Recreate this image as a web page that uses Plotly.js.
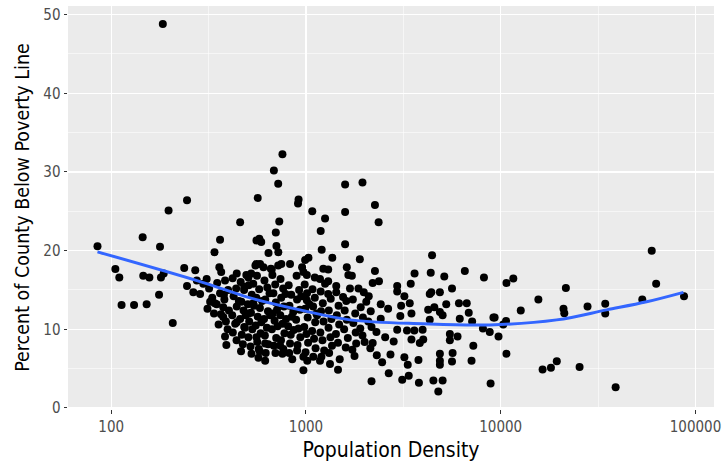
<!DOCTYPE html>
<html>
<head>
<meta charset="utf-8">
<script src="https://cdn.plot.ly/plotly-3.0.1.min.js"></script>
<style>html,body{margin:0;padding:0;background:#fff}#chart{width:726px;height:462px}</style>
</head>
<body>
<div id="chart"></div>
<script>
// Scattered counties (population density, percent below poverty)
const density = [85,105,110,113,131,145,146,152,157,176,178,180,184,186,197,207,237,245,245,264,270,275,286,297,309,322,337,339,359,362,367,376,376,384,390,441,441,459,482,482,494,506,507,523,536,536,550,557,557,557,565,572,576,581,589,605,617,617,642,660,667,684,700,705,720,720,721,729,736,747,757,757,828,828,900,910,916,955,970,970,970,990,1010,1010,1030,1077,1090,1110,1130,1180,1180,1190,1204,1227,1253,1253,1300,1300,1328,1365,1430,1460,1550,1588,1588,1588,1610,1620,1650,1682,1720,1810,1860,1890,1950,1980,2000,2040,2170,2170,2200,2200,2260,2260,2300,2310,2360,2370,2420,2420,2460,2550,2640,2660,2715,2820,2940,2940,2940,3050,3080,3120,3200,3200,3300,3330,3370,3410,3450,3480,3480,3600,3610,3780,3800,3840,3970,4000,4240,4320,4320,4370,4400,4440,4510,4560,4780,4870,4870,4870,4870,4870,5030,5030,5130,5250,5480,5480,5620,5620,5660,6000,6100,6160,6540,6690,6850,7080,7130,7230,8100,8200,8780,8870,9170,9300,9740,10300,10650,10700,10700,11600,12670,15600,16400,18100,19400,21000,21200,21600,25400,27900,34400,34400,38900,53300,59600,62800,87300];
const poverty = [20.55,17.66,16.6,13.1,13.1,21.7,16.8,13.2,16.6,14.4,20.5,16.6,48.8,17.1,25.1,10.8,17.8,26.4,15.5,14.7,17.5,16.2,14.5,15.8,16.4,13.5,12.0,19.8,17.9,21.4,17.3,12.8,11.55,9.1,8.0,17.1,10.9,23.6,15.4,10.3,16.9,16.6,12.0,17.1,15.8,13.3,18.1,18.3,21.3,9.0,26.7,7.5,21.5,18.3,21.1,17.9,8.2,6.0,19.7,17.7,17.6,30.2,22.3,20.6,28.5,18.1,19.8,23.7,7.95,18.3,32.25,6.9,18.3,8.2,7.3,26.0,26.5,17.9,17.3,6.5,4.8,18.8,16.9,13.7,19.1,25.0,6.5,16.6,12.0,16.4,6.0,22.5,20.1,17.7,24.1,15.8,17.6,14.5,5.6,19.1,14.7,4.85,14.1,28.4,24.9,20.8,13.6,17.9,16.9,15.2,16.8,8.2,15.2,18.9,28.65,14.7,8.4,13.5,10.3,3.4,15.9,8.25,25.8,17.4,9.65,6.7,23.6,16.1,13.2,11.35,5.8,9.0,12.6,4.4,6.8,8.45,15.5,14.8,9.95,11.7,13.0,3.6,14.2,6.45,9.85,5.5,4.1,13.3,15.8,12.0,8.7,9.85,17.1,6.1,3.2,8.25,9.95,8.7,12.5,14.5,11.2,17.2,14.7,19.4,3.5,12.8,2.1,14.7,12.2,6.9,6.0,5.5,11.8,3.5,16.7,13.2,9.4,8.6,15.2,5.9,7.0,9.1,13.3,11.35,17.4,13.3,12.1,6.0,11.0,7.9,10.1,16.6,9.65,3.1,11.5,11.5,9.1,10.6,11.05,15.9,6.9,16.45,12.4,13.8,4.9,5.1,5.95,12.6,12.05,15.25,5.2,12.9,13.25,12.0,2.65,13.8,20.0,15.8,14.2];

// Dense core of counties
const densityCore = [318,330,312,340, 350,362,348,366,356, 384,398,381,402,388,396,379, 420,438,425,441,418,433,421,440,452, 462,481,466,478,459,485,468,474,464,490, 508,527,503,522,511,530,506,519,525,540, 560,575,556,580,565,552,585,562,578,570,595,590, 612,633,618,638,609,630,615,640,621,650,655, 672,695,680,700,676,690,668,703,684,697,710,715, 740,763,746,770,738,758,775,744,765,785,790, 815,840,822,846,810,835,820,850,860,865, 895,922,900,930,890,915,935,905,945, 985,1012,990,1020,980,1005,1025,995,1015,1040, 1080,1110,1088,1115,1075,1100,1120,1140, 1190,1220,1195,1230,1185,1215,1240,1200, 1300,1340,1310,1350,1305,1335,1360,1315, 1430,1470,1440,1480,1425,1460,1490, 1580,1620,1570,1640,1600, 1740,1790,1750,1800,1730,1775, 1910,1960,1900,1950, 2100,2150,2090,2140];
const povertyCore = [15.2,14.0,12.6,13.3, 15.9,14.6,13.2,11.9,10.6, 16.2,15.0,13.8,12.4,11.0,10.0,14.4, 16.5,15.2,14.2,12.9,11.8,10.7,9.6,8.6,13.6, 16.0,15.0,13.5,12.4,11.3,10.2,9.3,8.1,7.2,11.8, 15.6,14.4,13.2,12.1,11.0,10.0,9.0,7.8,6.9,13.0, 16.8,15.1,14.0,12.7,11.6,10.5,9.5,8.4,7.2,6.4,13.6,10.9, 16.2,15.3,13.8,12.3,11.3,10.2,9.2,8.1,7.0,14.6,11.8, 16.9,15.7,14.6,13.4,12.0,11.1,10.0,8.9,7.9,7.0,12.5,10.4, 16.4,15.2,14.0,12.9,11.8,10.7,9.5,8.6,7.5,14.5,11.3, 15.6,14.4,13.0,11.6,10.4,9.3,7.0,6.2,12.2,9.9, 16.8,15.0,13.8,12.5,11.2,10.1,9.0,8.0,14.2, 15.7,14.6,12.6,11.5,10.3,9.4,8.3,7.1,6.0,13.2, 15.1,14.0,12.9,10.9,9.8,8.8,7.6,11.8, 14.8,13.3,12.3,11.0,9.6,8.6,7.3,6.5, 16.1,13.9,12.4,11.3,10.2,9.0,7.9,7.0, 15.5,13.0,11.8,10.6,9.4,8.3,6.2, 12.4,11.2,10.0,8.9,7.7, 13.8,12.0,10.8,9.6,7.4,6.6, 12.8,11.5,10.1,9.2, 14.2,12.3,11.0,7.6];

// Smoothed trend (loess)
const smoothX = [85,286,516,931,1682,3981,8780,19370,35000,56100,86700];
const smoothY = [19.85,16.07,14.0,12.47,11.2,10.7,10.56,11.2,12.47,13.5,14.7];

const xTicks = [100,1000,10000,100000];
const xTickText = ['100','1000','10000','100000'];
const xMinor = [316.23,3162.3,31623];
const yTicks = [0,10,20,30,40,50];
const yMinor = [5,15,25,35,45];

const FONT = '"Liberation Sans Narrow","DejaVu Sans Condensed","Roboto",sans-serif';

const traces = [
  {x: density.concat(densityCore), y: poverty.concat(povertyCore), type:'scatter', mode:'markers',
   marker:{color:'#000000', size:8, line:{width:0}}, hoverinfo:'skip', showlegend:false},
  {x: smoothX, y: smoothY, type:'scatter', mode:'lines',
   line:{color:'#3366FF', width:3, shape:'spline', smoothing:1}, hoverinfo:'skip', showlegend:false}
];

const layout = {
  width:726, height:462,
  margin:{l:68, r:12, t:6, b:53},
  paper_bgcolor:'#FFFFFF', plot_bgcolor:'#EBEBEB',
  font:{family:FONT, color:'#4D4D4D', size:15},
  showlegend:false,
  xaxis:{
    type:'log', range:[1.778, 5.095], autorange:false,
    tickmode:'array', tickvals:xTicks, ticktext:xTickText,
    ticks:'outside', ticklen:3.5, tickwidth:1, tickcolor:'#333333',
    tickfont:{family:FONT, size:15, color:'#4D4D4D'},
    showgrid:true, gridcolor:'#FFFFFF', gridwidth:1.1,
    minor:{tickmode:'array', tickvals:xMinor, showgrid:true, gridcolor:'#FFFFFF', gridwidth:0.55, ticks:''},
    zeroline:false, showline:false,
    title:{text:'Population Density', font:{family:FONT, size:21, color:'#000000'}, standoff:7}
  },
  yaxis:{
    range:[-0.13, 51.1], autorange:false,
    tickmode:'array', tickvals:yTicks,
    ticks:'outside', ticklen:3.5, tickwidth:1, tickcolor:'#333333',
    tickfont:{family:FONT, size:15, color:'#4D4D4D'},
    showgrid:true, gridcolor:'#FFFFFF', gridwidth:1.1,
    minor:{tickmode:'array', tickvals:yMinor, showgrid:true, gridcolor:'#FFFFFF', gridwidth:0.55, ticks:''},
    zeroline:false, showline:false,
    title:{text:'Percent of County Below Poverty Line', font:{family:FONT, size:19.5, color:'#000000'}, standoff:8}
  }
};

Plotly.newPlot('chart', traces, layout, {staticPlot:true, displayModeBar:false});
</script>
</body>
</html>
